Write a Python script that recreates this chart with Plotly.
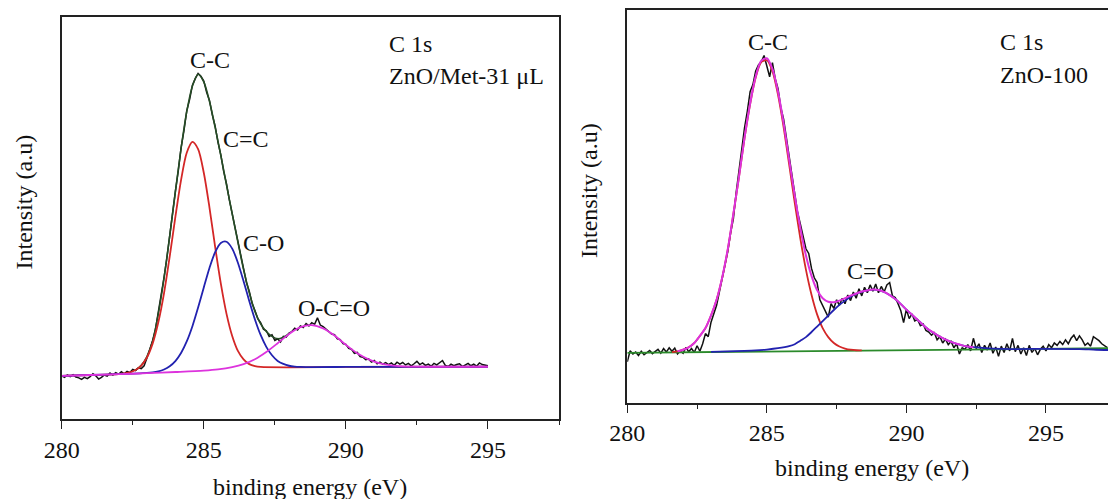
import plotly.graph_objects as go

W, H = 1108, 499

# ---------------- data ----------------
# energy grid of the measured spectra: start and step in eV
left_start, right_start, grid_step = 280.0, 280.0, 0.1

# Left panel: ZnO/Met-31 uL, measured C 1s spectrum (arb. units), 280.0 ... 295.0 eV
left_counts = [
    108, 104, 110, 106, 111, 105, 103, 99, 104, 101,
    106, 113, 108, 100, 104, 110, 107, 115, 110, 116,
    112, 118, 113, 119, 116, 124, 121, 128, 126, 133,
    152, 172, 196, 224, 265, 304, 352, 400, 458, 508,
    566, 616, 674, 716, 766, 794, 830, 846, 859, 852,
    840, 812, 792, 756, 728, 688, 657, 616, 585, 545,
    512, 474, 443, 404, 376, 340, 318, 288, 270, 250,
    240, 224, 220, 206, 210, 196, 200, 192, 206, 204,
    214, 218, 226, 222, 232, 228, 238, 232, 240, 236,
    252, 234, 230, 224, 220, 212, 210, 200, 198, 188,
    186, 176, 174, 164, 166, 156, 154, 148, 150, 142,
    146, 138, 142, 137, 141, 136, 140, 134, 142, 137,
    141, 135, 139, 133, 138, 144, 136, 140, 134, 137,
    132, 139, 135, 140, 146, 134, 131, 137, 133, 136,
    138, 131, 135, 139, 133, 137, 132, 140, 136, 134,
    133,
]

# Left panel fitted curves (energy, intensity)
left_env_x = [282.6, 282.8, 283.0, 283.2, 283.4, 283.6, 283.8, 284.0, 284.2, 284.4,
              284.6, 284.8, 285.0, 285.2, 285.4, 285.6, 285.8, 286.0, 286.2, 286.4,
              286.6, 286.8, 287.0, 287.2, 287.4, 287.6, 287.8, 288.0]
left_env_y = [122, 134, 156, 194, 262, 350, 455, 565, 672, 764,
              828, 857, 838, 790, 725, 655, 582, 510, 440, 372,
              315, 268, 237, 218, 206, 200, 204, 213]

left_cc_x = [280.0, 281.0, 282.0, 282.4, 282.6, 282.8, 283.0, 283.2, 283.4, 283.6,
             283.8, 284.0, 284.2, 284.4, 284.6, 284.8, 285.0, 285.2, 285.4, 285.6,
             285.8, 286.0, 286.2, 286.4, 286.6, 286.8, 287.0, 288.0, 290.0, 295.0]
left_cc_y = [108, 110, 112, 116.7, 122.4, 133.4, 153.5, 188, 241, 313,
             404, 502.5, 594, 662, 689, 671, 612.5, 526, 428, 337,
             262, 207, 170, 149, 137, 132, 130, 129, 130, 130.5]

left_co_x = [280.0, 281.0, 282.0, 283.0, 283.2, 283.4, 283.6, 283.8, 284.0, 284.2,
             284.4, 284.6, 284.8, 285.0, 285.2, 285.4, 285.6, 285.8, 286.0, 286.2,
             286.4, 286.6, 286.8, 287.0, 287.2, 287.4, 287.6, 287.8, 288.0, 288.2,
             288.4, 288.8, 290.0, 295.0]
left_co_y = [108, 110, 112, 115.2, 116.7, 119.3, 123.8, 131.7, 144.5, 164.6,
             193.4, 231.3, 277.5, 327.5, 376, 415, 438, 441, 424, 389,
             343, 294, 248, 209.5, 180, 159, 145, 137.5, 133, 131,
             130.2, 129.5, 130, 130.5]

left_oco_x = [280.0, 281.0, 282.0, 283.0, 284.0, 285.0, 285.5, 286.0, 286.4, 286.8,
              287.2, 287.6, 288.0, 288.4, 288.8, 289.2, 289.6, 290.0, 290.4, 290.8,
              291.2, 291.6, 292.0, 292.5, 293.0, 295.0]
left_oco_y = [108, 110, 112, 114.5, 117.5, 121, 124, 129.6, 137, 149,
              167, 189, 212, 229, 234, 226, 208, 185, 164, 149,
              139, 134, 131.6, 130.6, 130.5, 130.5]

# Right panel: ZnO-100, measured C 1s spectrum (arb. units), 280.0 ... 297.2 eV
right_counts = [
    104, 132, 124, 129, 120, 131, 122, 128, 133, 125,
    130, 136, 126, 138, 129, 140, 131, 139, 124, 132,
    126, 141, 130, 138, 128, 145, 131, 150, 176, 168,
    205, 224, 248, 282, 318, 358, 385, 432, 468, 535,
    590, 648, 700, 742, 792, 810, 845, 860, 868, 884,
    858, 830, 866, 825, 800, 752, 722, 676, 632, 580,
    540, 485, 455, 420, 392, 380, 342, 318, 306, 262,
    248, 236, 218, 252, 240, 262, 248, 266, 252, 274,
    260, 282, 266, 290, 272, 294, 280, 300, 284, 302,
    280, 296, 282, 300, 306, 272, 268, 252, 234, 204,
    238, 214, 226, 208, 212, 196, 200, 184, 180, 172,
    178, 160, 168, 152, 162, 148, 156, 140, 150, 124,
    140, 136, 148, 132, 164, 138, 150, 128, 146, 134,
    152, 126, 142, 118, 144, 128, 150, 132, 164, 130,
    146, 124, 140, 120, 146, 128, 138, 122, 136, 144,
    132, 148, 140, 152, 146, 156, 148, 160, 150, 164,
    172, 158, 170, 160, 146, 152, 144, 168, 164, 158,
    150, 146, 140,
]

right_base_x = [280.0, 297.5]
right_base_y = [127, 139]

right_cc_x = [281.6, 281.8, 282.0, 282.2, 282.4, 282.6, 282.8, 283.0, 283.2, 283.4,
              283.6, 283.8, 284.0, 284.2, 284.4, 284.6, 284.8, 285.0, 285.2, 285.4,
              285.6, 285.8, 286.0, 286.2, 286.4, 286.6, 286.8, 287.0, 287.2, 287.4,
              287.6, 287.8, 288.0, 288.2, 288.4]
right_cc_y = [129, 131, 135, 141, 152, 170, 190, 222, 262, 318,
              390, 480, 574, 673, 760, 828, 867, 872, 844, 784,
              702, 606, 509, 418, 339, 275, 225, 190, 167, 152,
              143, 138, 135, 133.5, 133.4]

right_co_x = [283.0, 283.6, 284.2, 284.6, 285.0, 285.4, 285.8, 286.0, 286.2, 286.4,
              286.6, 286.8, 287.0, 287.2, 287.4, 287.6, 287.8, 288.0, 288.2, 288.4,
              288.6, 288.8, 289.0, 289.2, 289.4, 289.6, 289.8, 290.0, 290.2, 290.4,
              290.6, 290.8, 291.0, 291.2, 291.4, 291.6, 291.8, 292.0, 292.2, 292.4,
              292.8, 293.4, 294.0, 295.0, 296.2, 296.8, 297.5]
right_co_y = [129.6, 130.5, 131.9, 133.2, 135.4, 138.7, 144, 149, 158, 167,
              180, 194, 208, 222, 236, 249, 260, 270, 277, 282,
              286, 288, 287, 282, 274, 264, 251, 237, 224, 211,
              198, 186, 177, 168, 161, 155, 150, 146, 143, 141.5,
              139, 137, 136.6, 137.2, 136.5, 134.8, 134]

right_fit_x = [281.8, 282.0, 282.2, 282.4, 282.6, 282.8, 283.0, 283.2, 283.4, 283.6,
               283.8, 284.0, 284.2, 284.4, 284.6, 284.8, 285.0, 285.2, 285.4, 285.6,
               285.8, 286.0, 286.2, 286.4, 286.6, 286.8, 287.0, 287.2, 287.4, 287.6,
               287.8, 288.0, 288.2, 288.4, 288.6, 288.8, 289.0, 289.2, 289.4, 289.6,
               289.8, 290.0, 290.2, 290.4, 290.6, 290.8, 291.0, 291.2, 291.4, 291.6,
               291.8, 292.0, 292.2, 292.4]
right_fit_y = [131, 135, 141, 152, 170, 190, 222.5, 262.5, 319, 391,
               481, 575, 675, 762, 831, 871, 877, 850, 792, 712,
               619, 527, 445, 375, 323, 287, 266, 257, 256, 260,
               266, 272.5, 278, 283, 286, 288, 287, 282, 274, 264,
               251, 237, 224, 211, 198, 186, 177, 168, 161, 155,
               150, 146, 143, 141.5]

x_ticks = [280, 285, 290, 295]
x_tick_labels = ["280", "285", "290", "295"]

# ---------------- figure ----------------
def grid(start, n):
    return [round(start + i * grid_step, 2) for i in range(n)]

left_x = grid(left_start, len(left_counts))
right_x = grid(right_start, len(right_counts))

RED, BLUE, MAG = "#d42727", "#2222b0", "#dd33dd"
GREEN, DKGREEN = "#2b8a2b", "#264d26"

fig = go.Figure()

def line(x, y, color, width, xa, ya, shape="spline"):
    fig.add_trace(go.Scatter(
        x=x, y=y, mode="lines", xaxis=xa, yaxis=ya,
        line=dict(color=color, width=width, shape=shape, smoothing=0.8 if shape == "spline" else None),
        showlegend=False, hoverinfo="skip"))

# left panel
line(left_x, left_counts, "#111111", 1.5, "x", "y", "linear")
line(left_env_x, left_env_y, DKGREEN, 1.6, "x", "y")
line(left_cc_x, left_cc_y, RED, 1.8, "x", "y")
line(left_co_x, left_co_y, BLUE, 1.8, "x", "y")
line(left_oco_x, left_oco_y, MAG, 1.8, "x", "y")

# right panel
line(right_x, right_counts, "#111111", 1.5, "x2", "y2", "linear")
line(right_base_x, right_base_y, GREEN, 1.8, "x2", "y2", "linear")
line(right_cc_x, right_cc_y, RED, 1.8, "x2", "y2")
line(right_co_x, right_co_y, BLUE, 1.8, "x2", "y2")
line(right_fit_x, right_fit_y, MAG, 2.0, "x2", "y2")

FONT = "Liberation Serif"
AXC = "#222222"

xcommon = dict(showline=True, linecolor=AXC, linewidth=1.6, mirror=True, automargin=False,
               showgrid=False, zeroline=False, ticks="outside", ticklen=8,
               tickwidth=1.4, tickcolor=AXC, tickvals=x_ticks, ticktext=x_tick_labels,
               tickfont=dict(family=FONT, size=24, color="#111111"),
               minor=dict(ticks="outside", ticklen=4, tickwidth=1.4, tickcolor=AXC,
                          dtick=2.5, tick0=280, showgrid=False))
ycommon = dict(showline=True, linecolor=AXC, linewidth=1.6, showgrid=False, automargin=False,
               zeroline=False, ticks="", showticklabels=False, range=[0, 1000])

def fx(px):
    return px / W

def fy(py):
    return 1 - py / H

fig.update_layout(
    template="none",
    width=W, height=H, margin=dict(l=0, r=0, t=0, b=0, pad=0, autoexpand=False),
    paper_bgcolor="white", plot_bgcolor="white",
    xaxis=dict(domain=[fx(61.7), fx(559)], range=[280, 297.5], anchor="y", **xcommon),
    yaxis=dict(domain=[fy(419.3), fy(16.7)], anchor="x", mirror=True, **ycommon),
    xaxis2=dict(domain=[fx(627.3), 1.0], range=[280, 297.223], anchor="y2", **xcommon),
    yaxis2=dict(domain=[fy(402.7), fy(10)], anchor="x2", mirror=False, **ycommon),
)

def ann(text, px, py, xanchor="center", angle=0, size=24):
    fig.add_annotation(text=text, x=fx(px), y=fy(py), xref="paper", yref="paper",
                       xanchor=xanchor, yanchor="middle", showarrow=False, textangle=angle,
                       font=dict(family=FONT, size=size, color="#111111"))

# left panel texts
ann("C-C", 210, 60.5)
ann("C=C", 245.5, 139)
ann("C-O", 263.3, 242.5)
ann("O-C=O", 334, 307.5)
ann("C 1s", 386.8, 44, "left")
ann("ZnO/Met-31 μL", 386.8, 76, "left")
ann("Intensity (a.u)", 23, 202.5, angle=-90)
ann("binding energy (eV)", 310.4, 487)

# right panel texts
ann("C-C", 768.3, 42)
ann("C=O", 870.7, 271)
ann("C 1s", 997.7, 42, "left")
ann("ZnO-100", 997.7, 75, "left")
ann("Intensity (a.u)", 589, 191, angle=-90)
ann("binding energy (eV)", 871.5, 468)

fig.write_html("out.html", config={"displayModeBar": False},
               post_script="document.body.style.margin='0px';")
